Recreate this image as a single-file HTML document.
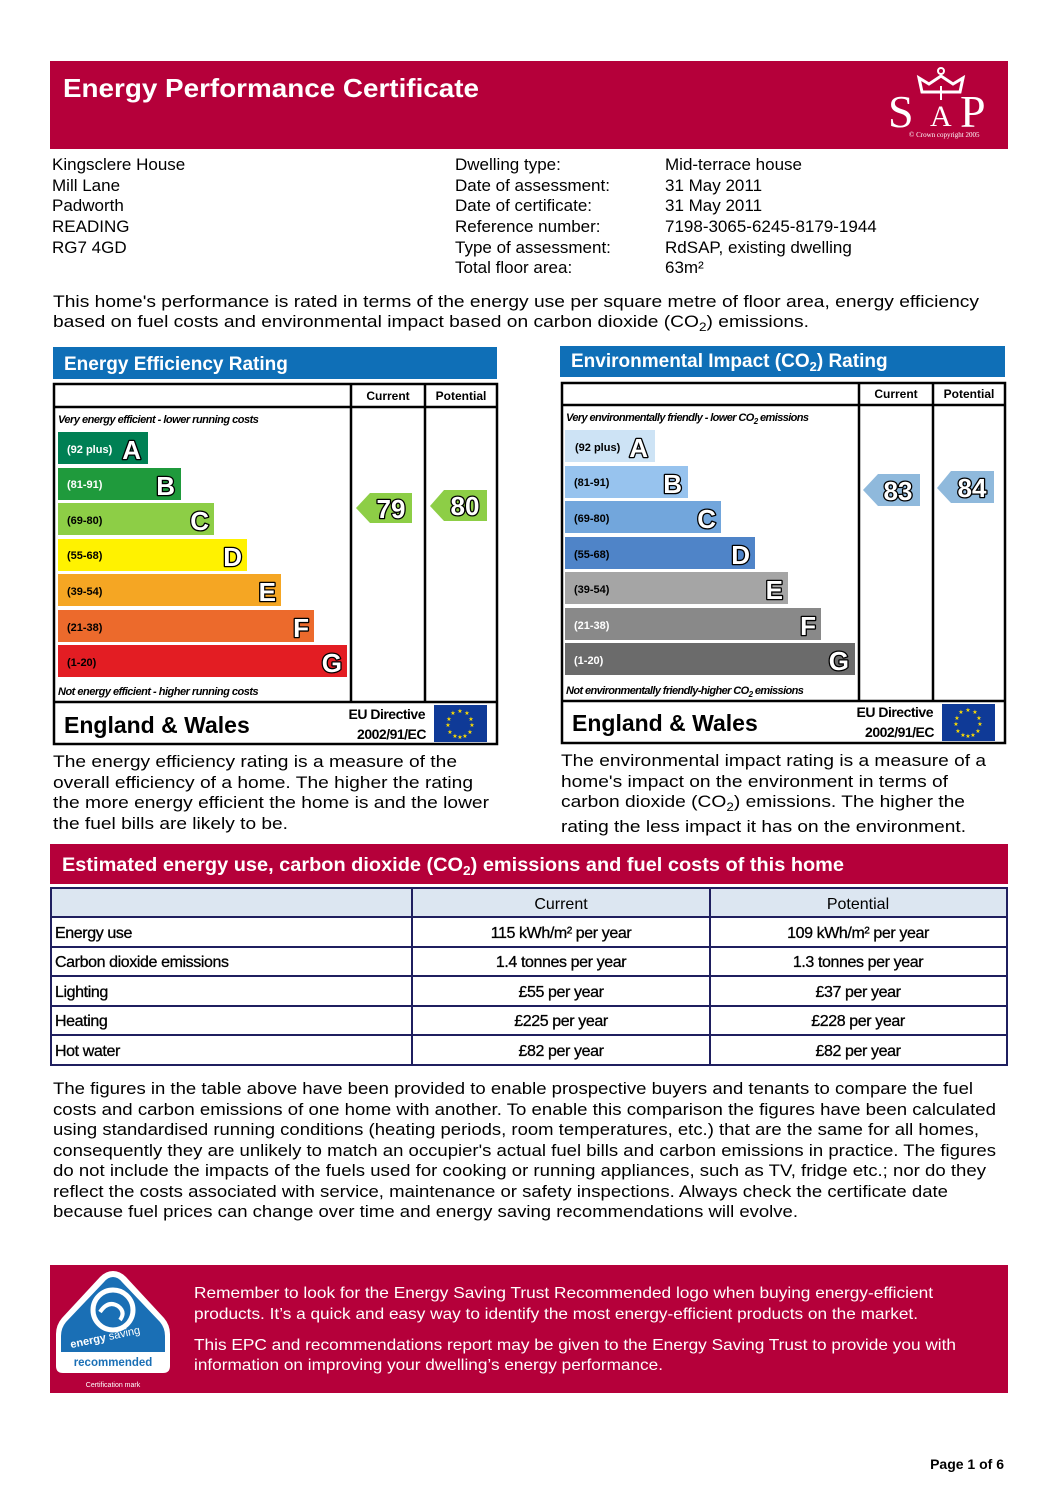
<!DOCTYPE html>
<html><head><meta charset="utf-8"><style>
html,body{margin:0;padding:0;background:#fff}
svg{display:block;font-family:"Liberation Sans",sans-serif}
.lt{paint-order:stroke;stroke:#000;stroke-width:2.6;stroke-linejoin:round;fill:#fff}
</style></head><body>
<svg width="1058" height="1497" viewBox="0 0 1058 1497" xmlns="http://www.w3.org/2000/svg">
<!-- header -->
<rect x="50" y="61" width="958" height="88" fill="#b5003a"/>
<text x="63" y="97" font-size="26" font-weight="bold" fill="#fff" textLength="416" lengthAdjust="spacingAndGlyphs">Energy Performance Certificate</text>
<g fill="#fff">
<text x="888" y="127" style="font-family:'Liberation Serif',serif" font-size="46">S</text>
<text x="930" y="126" style="font-family:'Liberation Serif',serif" font-size="30">A</text>
<text x="960" y="127" style="font-family:'Liberation Serif',serif" font-size="46">P</text>
<text x="909" y="137" style="font-family:'Liberation Serif',serif" font-size="7">© Crown copyright 2005</text>
<path d="M922 92 L919 78 L929 84 L941 76 L953 84 L963 78 L960 92 Z" fill="none" stroke="#fff" stroke-width="3"/>
<line x1="941" y1="86" x2="941" y2="100" stroke="#fff" stroke-width="2"/>
<circle cx="941" cy="71" r="3" fill="none" stroke="#fff" stroke-width="2"/>
</g>
<!-- address -->
<g font-size="17" fill="#000">
<text x="52" y="170">Kingsclere House</text>
<text x="52" y="191">Mill Lane</text>
<text x="52" y="211">Padworth</text>
<text x="52" y="232">READING</text>
<text x="52" y="253">RG7 4GD</text>
<text x="455" y="170">Dwelling type:</text>
<text x="455" y="191">Date of assessment:</text>
<text x="455" y="211">Date of certificate:</text>
<text x="455" y="232">Reference number:</text>
<text x="455" y="253">Type of assessment:</text>
<text x="455" y="273">Total floor area:</text>
<text x="665" y="170">Mid-terrace house</text>
<text x="665" y="191">31 May 2011</text>
<text x="665" y="211">31 May 2011</text>
<text x="665" y="232">7198-3065-6245-8179-1944</text>
<text x="665" y="253">RdSAP, existing dwelling</text>
<text x="665" y="273">63m²</text>
<text x="53" y="307" textLength="926" lengthAdjust="spacingAndGlyphs">This home's performance is rated in terms of the energy use per square metre of floor area, energy efficiency</text>
<text x="53" y="327" textLength="756" lengthAdjust="spacingAndGlyphs">based on fuel costs and environmental impact based on carbon dioxide (CO<tspan font-size="12" dy="4">2</tspan><tspan dy="-4">) emissions.</tspan></text>
</g>

<!-- EE chart -->
<rect x="53" y="347" width="444" height="32" fill="#0f6fb7"/>
<text x="64" y="370" font-size="19" font-weight="bold" fill="#fff">Energy Efficiency Rating</text>
<g fill="none" stroke="#000" stroke-width="2.5">
<rect x="54" y="384" width="443" height="360"/>
<line x1="54" y1="407" x2="497" y2="407"/>
<line x1="54" y1="702" x2="497" y2="702"/>
<line x1="351" y1="384" x2="351" y2="702"/>
<line x1="425" y1="384" x2="425" y2="702"/>
</g>
<g font-size="12" font-weight="bold" text-anchor="middle"><text x="388" y="400">Current</text><text x="461" y="400">Potential</text></g>
<text x="58" y="423" font-size="11" font-style="italic" font-weight="bold" letter-spacing="-0.5">Very energy efficient - lower running costs</text>
<text x="58" y="695" font-size="11" font-style="italic" font-weight="bold" letter-spacing="-0.5">Not energy efficient - higher running costs</text>
<g font-size="11" font-weight="bold">
<rect x="58" y="432" width="90" height="32" fill="#008054"/><text x="67" y="453" fill="#fff">(92 plus)</text>
<rect x="58" y="468" width="123" height="32" fill="#1f9a3c"/><text x="67" y="488" fill="#fff">(81-91)</text>
<rect x="58" y="503" width="156" height="32" fill="#8dce46"/><text x="67" y="524" fill="#000">(69-80)</text>
<rect x="58" y="539" width="189" height="32" fill="#fff200"/><text x="67" y="559" fill="#000">(55-68)</text>
<rect x="58" y="574" width="223" height="32" fill="#f5a623"/><text x="67" y="595" fill="#000">(39-54)</text>
<rect x="58" y="610" width="256" height="32" fill="#ec6a2c"/><text x="67" y="631" fill="#000">(21-38)</text>
<rect x="58" y="645" width="289" height="32" fill="#e31d23"/><text x="67" y="666" fill="#000">(1-20)</text>
</g>
<g font-size="26" font-weight="bold" class="lt" text-anchor="end">
<text x="141" y="459">A</text><text x="175" y="495">B</text><text x="209" y="530">C</text><text x="242" y="566">D</text><text x="276" y="601">E</text><text x="309" y="637">F</text><text x="342" y="672">G</text>
</g>
<polygon points="356,508 370,493 412,493 412,523 370,523" fill="#8dce46"/>
<polygon points="430,506 444,490 487,490 487,521 444,521" fill="#8dce46"/>
<g font-size="26" font-weight="bold" class="lt" text-anchor="middle">
<text x="391" y="518">79</text><text x="465" y="515">80</text>
</g>
<text x="64" y="733" font-size="23" font-weight="bold">England &amp; Wales</text>
<g font-size="14" font-weight="bold" text-anchor="end" letter-spacing="-0.5"><text x="425" y="719">EU Directive</text><text x="426" y="739">2002/91/EC</text></g>
<rect x="434" y="705" width="53" height="37" fill="#0f3a97"/>
<g fill="#ffde00" font-size="6" text-anchor="middle">
<text x="460" y="713">★</text><text x="453" y="715">★</text><text x="467" y="715">★</text><text x="449" y="721">★</text><text x="471" y="721">★</text><text x="448" y="727">★</text><text x="472" y="727">★</text><text x="450" y="734">★</text><text x="470" y="734">★</text><text x="455" y="738">★</text><text x="465" y="738">★</text><text x="460" y="739">★</text>
</g>

<!-- Env chart -->
<rect x="560" y="346" width="445" height="31" fill="#0f6fb7"/>
<text x="571" y="367" font-size="19" font-weight="bold" fill="#fff">Environmental Impact (CO<tspan font-size="13" dy="4">2</tspan><tspan dy="-4">) Rating</tspan></text>
<g fill="none" stroke="#000" stroke-width="2.5">
<rect x="562" y="383" width="443" height="360"/>
<line x1="562" y1="405" x2="1005" y2="405"/>
<line x1="562" y1="701" x2="1005" y2="701"/>
<line x1="859" y1="383" x2="859" y2="701"/>
<line x1="933" y1="383" x2="933" y2="701"/>
</g>
<g font-size="12" font-weight="bold" text-anchor="middle"><text x="896" y="398">Current</text><text x="969" y="398">Potential</text></g>
<text x="566" y="421" font-size="11" font-style="italic" font-weight="bold" letter-spacing="-0.6">Very environmentally friendly - lower CO<tspan font-size="8" dy="3">2</tspan><tspan dy="-3"> emissions</tspan></text>
<text x="566" y="694" font-size="11" font-style="italic" font-weight="bold" letter-spacing="-0.6">Not environmentally friendly-higher CO<tspan font-size="8" dy="3">2</tspan><tspan dy="-3"> emissions</tspan></text>
<g font-size="11" font-weight="bold">
<rect x="565" y="430" width="90" height="32" fill="#cde3f5"/><text x="575" y="451" fill="#000">(92 plus)</text>
<rect x="565" y="466" width="123" height="32" fill="#97c3ee"/><text x="574" y="486" fill="#000">(81-91)</text>
<rect x="565" y="501" width="156" height="32" fill="#72a6dc"/><text x="574" y="522" fill="#000">(69-80)</text>
<rect x="565" y="537" width="190" height="32" fill="#4f84c8"/><text x="574" y="558" fill="#000">(55-68)</text>
<rect x="565" y="572" width="223" height="32" fill="#a5a5a5"/><text x="574" y="593" fill="#000">(39-54)</text>
<rect x="565" y="608" width="256" height="32" fill="#898989"/><text x="574" y="629" fill="#fff">(21-38)</text>
<rect x="565" y="643" width="290" height="32" fill="#6b6b6b"/><text x="574" y="664" fill="#fff">(1-20)</text>
</g>
<g font-size="26" font-weight="bold" class="lt" text-anchor="end">
<text x="648" y="457">A</text><text x="682" y="493">B</text><text x="716" y="528">C</text><text x="750" y="564">D</text><text x="783" y="599">E</text><text x="816" y="635">F</text><text x="849" y="670">G</text>
</g>
<polygon points="863,490 878,474 920,474 920,506 878,506" fill="#8fb9dc"/>
<polygon points="937,488 951,471 994,471 994,503 951,503" fill="#8fb9dc"/>
<g font-size="26" font-weight="bold" class="lt" text-anchor="middle">
<text x="898" y="500">83</text><text x="972" y="497">84</text>
</g>
<text x="572" y="731" font-size="23" font-weight="bold">England &amp; Wales</text>
<g font-size="14" font-weight="bold" text-anchor="end" letter-spacing="-0.5"><text x="933" y="717">EU Directive</text><text x="934" y="737">2002/91/EC</text></g>
<rect x="942" y="704" width="53" height="37" fill="#0f3a97"/>
<g fill="#ffde00" font-size="6" text-anchor="middle">
<text x="968" y="712">★</text><text x="961" y="714">★</text><text x="975" y="714">★</text><text x="957" y="720">★</text><text x="979" y="720">★</text><text x="956" y="726">★</text><text x="980" y="726">★</text><text x="958" y="733">★</text><text x="978" y="733">★</text><text x="963" y="737">★</text><text x="973" y="737">★</text><text x="968" y="738">★</text>
</g>

<!-- descriptions -->
<g font-size="17">
<text x="53" y="767" textLength="404" lengthAdjust="spacingAndGlyphs">The energy efficiency rating is a measure of the</text>
<text x="53" y="788" textLength="420" lengthAdjust="spacingAndGlyphs">overall efficiency of a home. The higher the rating</text>
<text x="53" y="808" textLength="436" lengthAdjust="spacingAndGlyphs">the more energy efficient the home is and the lower</text>
<text x="53" y="829" textLength="235" lengthAdjust="spacingAndGlyphs">the fuel bills are likely to be.</text>
<text x="561" y="766" textLength="425" lengthAdjust="spacingAndGlyphs">The environmental impact rating is a measure of a</text>
<text x="561" y="787" textLength="387" lengthAdjust="spacingAndGlyphs">home's impact on the environment in terms of</text>
<text x="561" y="807" textLength="404" lengthAdjust="spacingAndGlyphs">carbon dioxide (CO<tspan font-size="12" dy="4">2</tspan><tspan dy="-4">) emissions. The higher the</tspan></text>
<text x="561" y="832" textLength="405" lengthAdjust="spacingAndGlyphs">rating the less impact it has on the environment.</text>
</g>

<!-- table section -->
<rect x="50" y="844" width="958" height="40" fill="#b5003a"/>
<text x="62" y="871" font-size="19" font-weight="bold" fill="#fff" textLength="782" lengthAdjust="spacingAndGlyphs">Estimated energy use, carbon dioxide (CO<tspan font-size="13" dy="4">2</tspan><tspan dy="-4">) emissions and fuel costs of this home</tspan></text>
<rect x="51" y="888" width="956" height="29" fill="#dce6f1"/>
<g stroke="#1f1f5f" stroke-width="2" fill="none">
<rect x="51" y="888" width="956" height="177"/>
<line x1="51" y1="917" x2="1007" y2="917"/>
<line x1="51" y1="947" x2="1007" y2="947"/>
<line x1="51" y1="976" x2="1007" y2="976"/>
<line x1="51" y1="1006" x2="1007" y2="1006"/>
<line x1="51" y1="1035" x2="1007" y2="1035"/>
<line x1="412" y1="888" x2="412" y2="1065"/>
<line x1="710" y1="888" x2="710" y2="1065"/>
</g>
<g font-size="16">
<text x="561" y="909" text-anchor="middle">Current</text><text x="858" y="909" text-anchor="middle">Potential</text>
</g>
<g font-size="16" letter-spacing="-0.4" stroke="#000" stroke-width="0.3">
<text x="55" y="938">Energy use</text>
<text x="55" y="967">Carbon dioxide emissions</text>
<text x="55" y="997">Lighting</text>
<text x="55" y="1026">Heating</text>
<text x="55" y="1056">Hot water</text>
<g text-anchor="middle">
<text x="561" y="938">115 kWh/m² per year</text><text x="858" y="938">109 kWh/m² per year</text>
<text x="561" y="967">1.4 tonnes per year</text><text x="858" y="967">1.3 tonnes per year</text>
<text x="561" y="997">£55 per year</text><text x="858" y="997">£37 per year</text>
<text x="561" y="1026">£225 per year</text><text x="858" y="1026">£228 per year</text>
<text x="561" y="1056">£82 per year</text><text x="858" y="1056">£82 per year</text>
</g>
</g>

<g font-size="17">
<text x="53" y="1094" textLength="920" lengthAdjust="spacingAndGlyphs">The figures in the table above have been provided to enable prospective buyers and tenants to compare the fuel</text>
<text x="53" y="1115" textLength="943" lengthAdjust="spacingAndGlyphs">costs and carbon emissions of one home with another. To enable this comparison the figures have been calculated</text>
<text x="53" y="1135" textLength="926" lengthAdjust="spacingAndGlyphs">using standardised running conditions (heating periods, room temperatures, etc.) that are the same for all homes,</text>
<text x="53" y="1156" textLength="943" lengthAdjust="spacingAndGlyphs">consequently they are unlikely to match an occupier's actual fuel bills and carbon emissions in practice. The figures</text>
<text x="53" y="1176" textLength="933" lengthAdjust="spacingAndGlyphs">do not include the impacts of the fuels used for cooking or running appliances, such as TV, fridge etc.; nor do they</text>
<text x="53" y="1197" textLength="895" lengthAdjust="spacingAndGlyphs">reflect the costs associated with service, maintenance or safety inspections. Always check the certificate date</text>
<text x="53" y="1217" textLength="745" lengthAdjust="spacingAndGlyphs">because fuel prices can change over time and energy saving recommendations will evolve.</text>
</g>

<!-- bottom banner -->
<rect x="50" y="1265" width="958" height="128" fill="#b5003a"/>
<path d="M113 1271 Q106 1271 100 1277 L62 1318 Q56 1325 56 1334 L56 1366 Q56 1373 63 1373 L163 1373 Q170 1373 170 1366 L170 1334 Q170 1325 164 1318 L126 1277 Q120 1271 113 1271 Z" fill="#fff"/>
<path d="M113 1277 Q108 1277 104 1282 L66 1322 Q61 1328 61 1336 L61 1352 L165 1352 L165 1336 Q165 1328 160 1322 L122 1282 Q118 1277 113 1277 Z" fill="#1a6fb5"/>
<circle cx="113" cy="1310" r="20" fill="none" stroke="#fff" stroke-width="5"/>
<path d="M100 1312 Q108 1300 118 1306 Q126 1312 120 1320" fill="none" stroke="#fff" stroke-width="4"/>
<text x="70" y="1343" font-size="11" font-weight="bold" fill="#fff" transform="rotate(-12 95 1340)">energy <tspan font-weight="normal">saving</tspan></text>
<text x="113" y="1366" font-size="11.5" font-weight="bold" fill="#1a6fb5" text-anchor="middle">recommended</text>
<text x="113" y="1387" font-size="7" fill="#fff" text-anchor="middle">Certification mark</text>
<g font-size="16" fill="#fff">
<text x="194" y="1298" textLength="739" lengthAdjust="spacingAndGlyphs">Remember to look for the Energy Saving Trust Recommended logo when buying energy-efficient</text>
<text x="194" y="1319" textLength="724" lengthAdjust="spacingAndGlyphs">products. It’s a quick and easy way to identify the most energy-efficient products on the market.</text>
<text x="194" y="1350" textLength="762" lengthAdjust="spacingAndGlyphs">This EPC and recommendations report may be given to the Energy Saving Trust to provide you with</text>
<text x="194" y="1370" textLength="469" lengthAdjust="spacingAndGlyphs">information on improving your dwelling’s energy performance.</text>
</g>
<text x="1004" y="1469" font-size="14" font-weight="bold" text-anchor="end">Page 1 of 6</text>
</svg>
</body></html>
